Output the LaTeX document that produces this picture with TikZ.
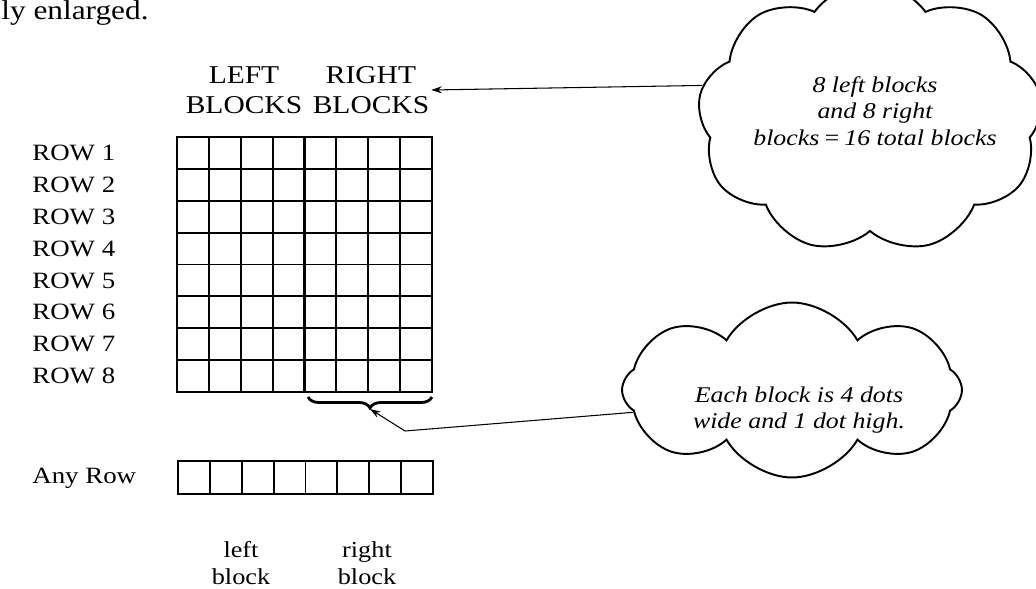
\documentclass[tikz,border=0pt]{standalone}
\usepackage{fontspec}
\setmainfont{Liberation Serif}[FakeStretch=1.15]
\usepackage{tikz}
\usetikzlibrary{shapes.symbols, arrows.meta, positioning, decorations.pathreplacing, calc}

\begin{document}
\begin{tikzpicture}[
    x=0.02cm, y=-0.02cm,
    gridline/.style={draw=black, line width=1.1pt},
    midline/.style={draw=black, line width=1.8pt},
    rowlabel/.style={anchor=west, inner sep=0pt, font=\fontsize{13.3}{15}\selectfont},
    heading/.style={align=center, inner sep=1pt, font=\fontsize{14.6}{17}\selectfont},
    blocklabel/.style={align=center, inner sep=0pt, font=\fontsize{13}{15.3}\selectfont},
    cloudnote/.style={cloud, cloud puffs=9, cloud puff arc=110, cloud ignores aspect, draw=black, line width=1.1pt, inner sep=0pt},
    notetext/.style={align=center, inner sep=0pt, font=\fontsize{12.8}{15}\selectfont\itshape},
    pointer/.style={draw=black, line width=0.6pt, -{Stealth[length=6pt, width=4pt]}}
]
\clip (0,0) rectangle (1036,589);

\node[anchor=base west, inner sep=0pt, font=\fontsize{15.5}{18}\selectfont] (fragment) at (1,19) {ly enlarged.};

% headings over the two halves
\node[heading] (lefthead) at (244,90) {LEFT\\BLOCKS};
\node[heading] (righthead) at (371,90) {RIGHT\\BLOCKS};

% 8 x 8 grid of blocks
\coordinate (gridNW) at (177,137);
\coordinate (gridSE) at (432,392);
\draw[gridline] (gridNW) rectangle (gridSE);
\foreach \k in {1,...,7} {
    \draw[gridline] ($(gridNW)+(\k*31.875,0)$) -- ($(gridNW)+(\k*31.875,255)$);
    \draw[gridline] ($(gridNW)+(0,\k*31.875)$) -- ($(gridNW)+(255,\k*31.875)$);
}
\draw[midline] ($(gridNW)+(127.5,0)$) -- ($(gridNW)+(127.5,255)$);

\foreach \r in {1,...,8}
    \node[rowlabel] (row\r) at (32,{137+(\r-0.5)*31.875}) {ROW \r};

% brace under the right blocks
\coordinate (braceR) at (432,397);
\coordinate (braceL) at (308,397);
\coordinate (bracetip) at (370,409);
\draw[line width=1.6pt, decorate, decoration={brace, amplitude=0.22cm}] (braceR) -- (braceL);

% any single row
\coordinate (barNW) at (178,461);
\draw[gridline] (barNW) rectangle ++(255,33);
\foreach \k in {1,...,7}
    \draw[gridline] ($(barNW)+(\k*31.875,0)$) -- ++(0,33);
\node[rowlabel] (anyrow) at (32,478) {Any Row};

\node[blocklabel] (leftblock) at (241,563) {left\\block};
\node[blocklabel] (rightblock) at (367,563) {right\\block};

% the two clouds
\node[cloudnote, minimum width=6.9cm, minimum height=5.4cm] (cloudA) at (870,118) {};
\node[notetext] (noteA) at (875,111) {8 left blocks\\and 8 right\\blocks\,=\,16 total blocks};

\node[cloudnote, cloud puffs=8, cloud puff arc=120, shape border rotate=12, minimum width=6.8cm, minimum height=3.5cm] (cloudB) at (792,390) {};
\node[notetext] (noteB) at (799,410) {Each block is 4 dots\\wide and 1 dot high.};

\draw[pointer] (cloudA.169) -- (righthead.east);
\coordinate (bend) at (405,431);
\draw[pointer] (cloudB.188) -- (bend) -- (bracetip);
\end{tikzpicture}
\end{document}
